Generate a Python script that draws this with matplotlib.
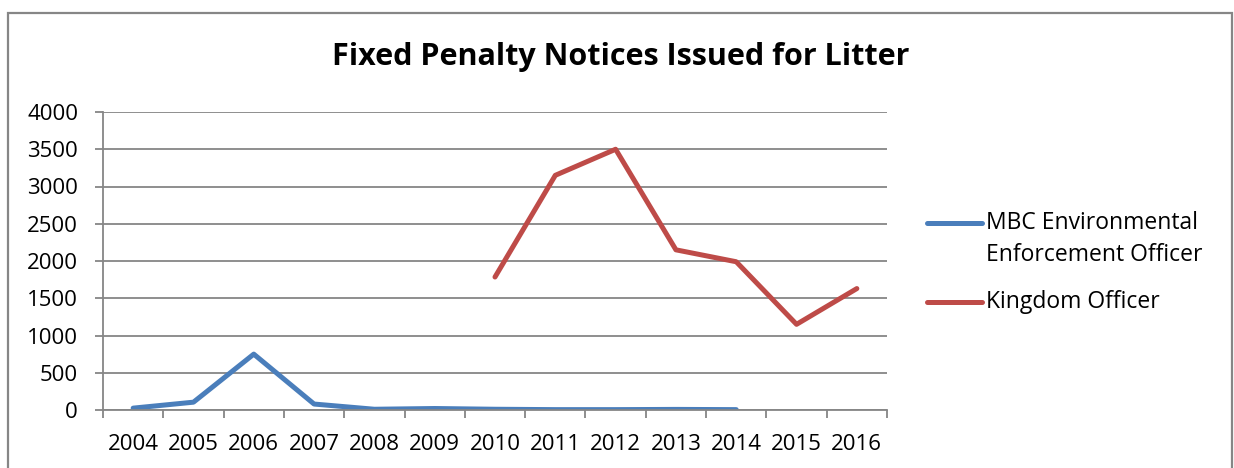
import matplotlib
matplotlib.use("Agg")
import matplotlib.pyplot as plt
import numpy as np
from matplotlib.patches import Rectangle
from matplotlib.lines import Line2D

years = ["2004", "2005", "2006", "2007", "2008", "2009", "2010",
         "2011", "2012", "2013", "2014", "2015", "2016"]
mbc = [25, 105, 750, 80, 10, 20, 10, 5, 5, 8, 5, None, None]
kingdom = [None, None, None, None, None, None, 1785, 3150, 3500, 2150, 1990, 1150, 1630]

blue = '#4A7EBB'
red = '#BE4B48'
grey = '#868686'

plt.rcParams['font.family'] = ['Open Sans', 'DejaVu Sans']

W, H = 1234, 468
fig = plt.figure(figsize=(W / 100, H / 100), dpi=100)

# chart area border (bottom edge is cut off in the original)
fig.patches.append(Rectangle((8 / W, -0.01), 1224 / W, 1.01 - 13 / H, transform=fig.transFigure,
                             fill=False, edgecolor=grey, linewidth=1.6))

ax = fig.add_axes([103 / W, 1 - 410 / H, 784 / W, 298 / H])
x = np.arange(len(years))

mbc_y = np.array([np.nan if v is None else v for v in mbc], dtype=float)
kd_y = np.array([np.nan if v is None else v for v in kingdom], dtype=float)
ax.plot(x, mbc_y, color=blue, linewidth=3.6, solid_capstyle='round')
ax.plot(x, kd_y, color=red, linewidth=3.6, solid_capstyle='round')

ax.set_xlim(-0.5, len(years) - 0.5)
ax.set_ylim(0, 4000)
ax.set_yticks(np.arange(0, 4001, 500))
ax.set_xticks(x)
ax.set_xticklabels(years)
ax.set_xticks(np.arange(-0.5, len(years)), minor=True)
ax.tick_params(axis='x', which='major', length=0, labelsize=16, pad=17)
ax.tick_params(axis='x', which='minor', length=6, color=grey, width=1.3, direction='out')
ax.tick_params(axis='y', length=6, color=grey, width=1.3, labelsize=16, pad=12)

ax.grid(axis='y', color=grey, linewidth=1.3)
ax.set_axisbelow(True)
for s in ['top', 'right']:
    ax.spines[s].set_visible(False)
for s in ['left', 'bottom']:
    ax.spines[s].set_color(grey)
    ax.spines[s].set_linewidth(1.3)

fig.text(621 / W, 1 - 57 / H, 'Fixed Penalty Notices Issued for Litter',
         ha='center', va='center', fontsize=22, fontweight='bold')

# legend, laid out like the Excel one (handle level with first text line)
def px(xp, yp):
    return xp / W, 1 - yp / H

for col, ypos, lines in [(blue, 223, ['MBC Environmental', 'Enforcement Officer']),
                         (red, 302, ['Kingdom Officer'])]:
    x0, y0 = px(927, ypos)
    x1, _ = px(982, ypos)
    fig.lines.append(Line2D([x0, x1], [y0, y0], transform=fig.transFigure,
                            color=col, linewidth=3.6, solid_capstyle='round'))
    for i, t in enumerate(lines):
        tx, ty = px(986, ypos + 32 * i)
        fig.text(tx, ty, t, ha='left', va='center', fontsize=16.5)

fig.savefig('out.png', dpi=100)
